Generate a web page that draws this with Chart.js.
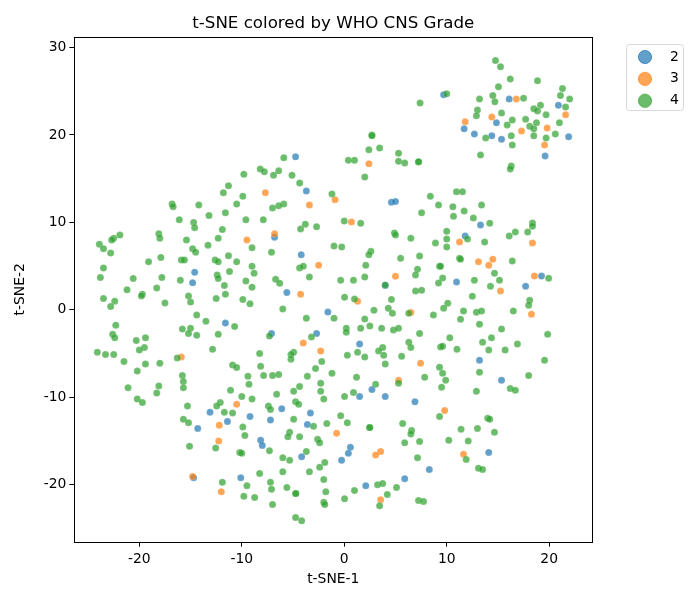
<!DOCTYPE html>
<html><head><meta charset="utf-8">
<style>html,body{margin:0;padding:0;background:#fff}canvas{display:block}</style>
<script src="https://cdn.jsdelivr.net/npm/chart.js@4"></script>
</head><body><canvas id="c" width="700" height="600"></canvas>
<script>
const grades = ["2","3","4"];
const xTicks = [-20,-10,0,10,20];
const yTicks = [-20,-10,0,10,20,30];
const grade2 = [[-14.6,4.3],[-14.8,3.1],[-11.6,-1.5],[-13.1,-11.7],[-9.2,-12.2],[-11.4,-12.75],[-14.3,-13.55],[-10.1,-19.2],[-14.7,-19.2],
[-4.75,17.5],[-3.7,13.6],[4.6,12.3],[5.0,12.4],[-6.8,8.3],[-4.2,6.3],[-5.6,2.0],[4.0,2.8],[-1.6,-0.25],[-7.1,-2.7],[-2.7,-2.7],
[1.5,-3.9],[1.5,-9.9],[2.7,-9.1],[4.0,-9.9],[6.9,-10.5],[-6.1,-11.3],[-7.2,-12.6],[-3.3,-11.8],[-3.6,-13.1],[-8.16,-14.9],[-8.0,-15.5],[0.6,-15.7],[0.4,-16.4],[-4.16,-16.8],[-0.26,-17.2],[8.3,-18.25],[5.9,-19.3],[2.1,-20.1],
[9.7,24.6],[16.1,24.1],[20.9,23.4],[14.85,21.4],[11.7,20.7],[12.7,20.1],[14.4,19.9],[15.35,19.5],[21.9,19.8],[19.6,17.6],
[13.3,9.7],[11.8,8.45],[19.25,3.86],[10.96,3.2],[17.7,2.7],[13.2,-5.75],[15.35,-8.05],[14.1,-16.3]];
const grade3 = [[-9.5,8.0],[-15.9,-5.4],[-10.5,-10.8],[-12.2,-13.2],[-12.25,-15.0],[-14.8,-19.05],[-12.0,-20.8],
[2.4,16.7],[-7.7,13.4],[-0.9,12.6],[-3.4,12.0],[0.7,10.05],[-6.8,8.7],[-2.5,5.1],[5.0,3.85],[-4.26,1.8],[1.3,1.0],[6.5,-0.3],
[-4.0,-3.8],[-2.3,-4.7],[7.45,-6.1],[5.3,-8.05],[-0.75,-14.1],[3.55,-16.2],[3.06,-16.6],[3.55,-21.7],
[16.8,24.1],[21.6,22.3],[14.4,22.06],[11.8,21.5],[19.8,20.8],[17.3,20.45],[19.55,18.85],
[11.25,7.76],[18.37,7.64],[14.5,5.8],[13.1,5.5],[14.1,5.1],[18.56,3.86],[15.25,2.15],[18.27,-0.5],[9.8,-11.5],[11.64,-16.5]];
const grade4 = [[-9.8,15.5],[-11.3,14.2],[-11.8,13.4],[-9.9,13.0],[-10.5,12.1],[-16.8,12.1],[-16.7,11.8],[-14.2,12.0],[-13.2,10.8],[-11.6,11.1],[-9.6,10.3],[-16.1,10.3],[-14.7,10.0],[-14.6,9.4],[-11.9,9.2],[-21.9,8.55],[-22.5,8.2],[-22.7,8.0],[-23.9,7.5],[-23.5,7.0],[-22.8,6.5],[-18.1,8.7],[-18.0,8.2],[-15.4,8.0],[-12.3,8.2],[-13.3,7.4],[-14.8,7.0],[-14.5,6.6],[-9.0,7.1],[-17.9,6.0],[-19.1,5.5],[-15.9,5.7],[-15.6,5.7],[-12.6,5.7],[-12.3,5.5],[-11.3,6.2],[-10.5,5.5],[-9.0,5.0],[-23.5,4.8],[-23.8,3.7],[-20.6,3.6],[-17.8,3.7],[-16.0,3.4],[-12.4,4.0],[-12.3,3.6],[-11.2,4.4],[-8.8,4.2],[-9.6,3.3],[-9.0,2.6],[-11.7,2.8],[-18.3,2.5],[-21.2,2.3],[-19.7,1.8],[-19.8,1.6],[-23.5,1.3],[-22.4,1.0],[-22.8,0.4],[-15.2,1.6],[-15.0,0.9],[-12.5,1.3],[-11.6,1.8],[-9.9,1.2],[-9.2,0.7],[-17.5,0.8],[-14.4,-0.6],[-13.5,-1.3],[-10.7,-1.9],[-22.3,-1.75],[-15.8,-2.2],[-15.0,-2.1],[-15.2,-2.7],[-14.4,-2.9],[-12.3,-2.8],[-22.6,-2.8],[-22.4,-3.2],[-20.3,-3.5],[-19.4,-3.2],
[-19.5,-4.3],[-20.0,-4.6],[-24.1,-4.85],[-23.3,-5.1],[-22.5,-5.1],[-21.5,-5.9],[-19.4,-6.2],[-18.0,-6.1],[-20.2,-7.0],[-21.1,-8.9],[-18.1,-8.7],[-18.3,-9.5],[-20.2,-10.2],[-19.7,-10.6],[-12.85,-4.5],[-16.3,-5.5],[-10.9,-6.3],[-10.5,-6.6],[-9.4,-7.6],[-9.3,-8.5],[-15.8,-7.5],[-15.7,-8.2],[-15.7,-8.9],[-11.1,-9.2],[-10.0,-9.9],[-9.0,-10.2],[-12.1,-10.6],[-12.45,-11.0],[-15.3,-11.0],[-11.7,-11.7],[-10.9,-11.8],[-15.7,-12.5],[-15.2,-12.9],[-9.9,-13.4],[-9.7,-14.35],[-12.55,-15.8],[-15.1,-15.6],[-10.2,-16.3],[-10.0,-16.4],[-11.9,-19.7],[-9.5,-20.1],[-9.8,-21.3],[-8.75,-21.45],
[2.7,20.0],[2.7,19.9],[2.4,18.3],[3.45,18.5],[5.3,17.9],[5.3,17.0],[5.9,16.8],[7.25,16.9],[7.25,16.95],[0.4,17.1],[1.0,17.1],[2.0,15.2],[-5.9,17.4],[-8.2,16.1],[-7.8,15.8],[-6.9,15.4],[-6.4,15.9],[-5.1,15.4],[-4.35,14.5],[-1.2,13.25],[8.4,13.0],[7.55,11.1],[-5.9,12.1],[-6.4,11.9],[-7.0,11.65],[-7.9,10.3],[0.0,10.15],[1.6,9.9],[-3.8,9.8],[-4.26,9.25],[-2.7,9.5],[4.9,8.8],[5.0,8.55],[6.5,8.2],[-7.1,6.6],[-1.0,7.3],[-0.25,7.2],[2.6,6.7],[2.4,6.3],[5.5,5.9],[7.35,6.15],[-4.36,4.8],[-4.0,5.0],[2.1,5.1],[7.15,4.65],[6.95,4.0],[-3.4,3.75],[-6.7,3.5],[-6.3,3.05],[-0.35,3.4],[0.9,3.4],[2.0,3.75],[4.0,2.85],[6.96,2.15],[7.55,2.25],[-6.0,0.1],[0.03,1.45],[1.0,1.25],[4.6,1.2],[2.9,-0.05],[4.3,0.2],[4.7,-0.4],[6.3,-0.4],[-1.0,-0.95],[-3.7,-0.95],[2.0,-1.05],[2.5,-1.85],[1.6,-2.1],[0.2,-2.1],[0.2,-2.55],[3.65,-2.1],[4.8,-2.3],[5.3,-2.1],[7.35,-2.7],[-7.3,-3.0],[-3.2,-3.1],
[6.3,-3.7],[6.5,-4.3],[3.75,-4.3],[3.35,-4.7],[3.85,-5.2],[1.3,-4.85],[0.3,-5.2],[2.0,-5.4],[5.6,-5.3],[4.0,-6.2],[-8.26,-5.0],[-4.94,-4.85],[-5.2,-5.1],[-5.2,-5.65],[-2.2,-5.9],[-8.16,-6.45],[-2.8,-6.7],[-7.87,-7.5],[-7.0,-7.5],[-6.4,-7.4],[-3.6,-7.6],[-1.2,-7.25],[1.2,-7.7],[-2.3,-8.4],[-4.36,-8.75],[-4.94,-9.3],[-2.3,-9.3],[-6.6,-9.65],[-2.0,-10.2],[-4.75,-10.5],[-4.45,-10.8],[0.03,-9.9],[0.9,-9.45],[3.06,-8.5],[5.3,-8.4],[7.85,-7.7],[-7.4,-11.0],[-7.2,-11.4],[-4.94,-12.5],[-3.0,-13.3],[-1.7,-13.0],[-0.35,-12.1],[0.3,-12.9],[2.47,-13.45],[2.5,-13.45],[5.7,-13.0],[6.57,-13.8],[6.5,-14.2],[-5.33,-14.0],[-5.5,-14.5],[-4.36,-14.5],[-2.6,-14.8],[-2.4,-15.2],[5.9,-15.2],[7.35,-15.05],[-7.3,-16.1],[-3.7,-16.2],[7.15,-16.9],[-6.0,-16.9],[-5.33,-17.2],[-1.9,-17.45],[-2.4,-18.0],[-6.0,-18.5],[-3.4,-18.5],[-8.26,-18.7],[-2.0,-19.4],[3.25,-20.0],[3.75,-19.85],[5.1,-20.3],[-7.2,-19.7],[-7.1,-20.5],[-5.6,-20.3],[-1.8,-20.8],[1.0,-20.65],[-4.75,-21.0],[-4.72,-21.0],[4.2,-21.1],[0.03,-21.6],[7.25,-21.8],[7.74,-21.9],[-2.0,-22.0],[-1.9,-22.25],[3.45,-22.4],[-7.0,-22.25],[-4.75,-23.75],[-4.16,-24.1],
[14.76,28.5],[15.25,27.8],[16.2,26.4],[18.86,26.2],[15.05,25.5],[21.3,25.3],[21.1,24.5],[22.0,24.1],[10.0,24.7],[7.4,23.66],[13.2,24.1],[14.5,24.5],[14.7,23.8],[17.5,24.2],[21.6,23.2],[19.15,23.4],[18.5,23.0],[18.86,22.75],[19.7,22.3],[13.0,22.85],[12.9,22.2],[15.35,22.5],[16.4,21.7],[15.9,21.15],[17.7,21.8],[18.76,21.4],[18.1,21.0],[18.5,20.7],[21.0,21.4],[20.6,20.1],[18.5,19.9],[19.7,19.65],[16.3,19.9],[13.8,19.65],[16.4,18.85],[13.3,17.7],[16.3,16.45],[16.2,16.1],
[10.95,13.5],[11.54,13.5],[9.2,12.0],[10.6,11.8],[13.4,12.0],[11.7,11.3],[10.66,10.7],[12.6,10.5],[14.2,9.9],[18.37,9.93],[18.37,9.55],[16.7,8.9],[17.9,8.9],[16.1,8.45],[10.0,9.0],[12.03,8.1],[10.0,8.1],[8.9,7.65],[13.7,7.76],[10.0,7.2],[11.25,5.9],[11.35,5.8],[16.4,5.6],[9.3,5.0],[9.4,5.0],[14.66,4.2],[9.6,3.65],[9.2,3.06],[12.7,3.4],[15.15,3.4],[19.95,3.63],[14.27,2.7],[12.5,1.57],[18.1,1.1],[18.0,0.54],[10.1,0.77],[9.7,0.2],[8.7,-0.6],[11.64,-0.14],[12.9,-0.26],[13.4,-0.14],[11.35,-1.06],[16.5,-0.14],[13.2,-1.63],[15.35,-2.2],[19.85,-2.8],[10.3,-3.2],[14.37,-3.2],[13.5,-3.7],[16.9,-3.9],[9.4,-4.25],[9.6,-4.15],[11.0,-4.5],[14.1,-4.6],[15.7,-4.6],[19.55,-5.75],[9.3,-6.55],[9.6,-7.25],[13.2,-7.13],[9.9,-8.05],[18.0,-7.5],[9.5,-8.85],[16.2,-9.0],[16.7,-9.2],[12.9,-9.3],
[9.3,-12.2],[14.0,-12.4],[14.2,-12.5],[11.4,-13.66],[13.0,-13.55],[14.66,-14.0],[10.2,-14.9],[12.1,-15.0],[11.9,-17.1],[13.1,-18.1],[13.5,-18.25]];
const seriesColors = ["rgba(31,119,180,0.7)","rgba(255,127,14,0.7)","rgba(44,160,44,0.7)"];
const toPoints = a => a.map(p => ({x:p[0], y:p[1]}));
const font = {family:"'DejaVu Sans'", size:13.9};
function legendMarker(color){
  const m=document.createElement("canvas"); m.width=36; m.height=16;
  const g=m.getContext("2d");
  g.fillStyle=color; g.strokeStyle=color; g.lineWidth=1;
  g.beginPath(); g.arc(18,8,6.6,0,Math.PI*2); g.fill(); g.stroke();
  return m;
}
const frame = {id:"frame",
 afterLayout(c){ const l=c.legend; const w=l.width; l.left=619; l.right=619+w; l.top=42; },
 afterDraw(c){
  const a=c.chartArea, g=c.ctx;
  g.save();
  g.strokeStyle="#000"; g.lineWidth=1;
  g.strokeRect(Math.round(a.left)+.5,Math.round(a.top)+.5,Math.round(a.width),Math.round(a.height));
  g.strokeStyle="#d9d9d9"; g.lineWidth=1;
  g.beginPath(); g.roundRect(626.5,44.5,57,66,3); g.stroke();
  g.restore();
}};
new Chart(document.getElementById("c"),{
  type:"scatter",
  data:{datasets:[
    {label:grades[0],data:toPoints(grade2),backgroundColor:seriesColors[0],order:3},
    {label:grades[1],data:toPoints(grade3),backgroundColor:seriesColors[1],order:2},
    {label:grades[2],data:toPoints(grade4),backgroundColor:seriesColors[2],order:1}
  ]},
  plugins:[frame],
  options:{
    responsive:false,animation:false,devicePixelRatio:1,
    layout:{padding:{left:12,right:38,top:14,bottom:12}},
    elements:{point:{radius:3.5,borderWidth:0.5,borderColor:"rgba(255,255,255,0.35)",hoverRadius:3.5}},
    scales:{
      x:{type:"linear",min:-26.34,max:24.2,
        afterBuildTicks:s=>{s.ticks=xTicks.map(v=>({value:v}));},
        grid:{display:true,drawOnChartArea:false,drawTicks:true,tickLength:5,color:"#000"},
        border:{display:false},
        ticks:{color:"#000",font,padding:4,maxRotation:0,autoSkip:false},
        title:{display:true,text:"t-SNE-1",color:"#000",font,padding:{top:0,bottom:0}}},
      y:{type:"linear",min:-26.5,max:31.2,
        afterBuildTicks:s=>{s.ticks=yTicks.map(v=>({value:v}));},
        grid:{display:true,drawOnChartArea:false,drawTicks:true,tickLength:5,color:"#000"},
        border:{display:false},
        ticks:{color:"#000",font,padding:3,autoSkip:false},
        title:{display:true,text:"t-SNE-2",color:"#000",font,padding:{top:0,bottom:12}}}
    },
    plugins:{
      tooltip:{enabled:false},
      title:{display:true,text:"t-SNE colored by WHO CNS Grade",color:"#000",fullSize:false,
        font:{family:"'DejaVu Sans'",size:16.67,weight:"normal"},padding:{top:0,bottom:3}},
      legend:{display:true,position:"right",align:"start",
        labels:{usePointStyle:true,pointStyleWidth:36,boxHeight:10,padding:8,color:"#000",font,
          sort:(a,b)=>a.datasetIndex-b.datasetIndex,
          generateLabels:ch=>{
            const items=Chart.defaults.plugins.legend.labels.generateLabels(ch);
            items.forEach(i=>{i.pointStyle=legendMarker(seriesColors[i.datasetIndex]);});
            return items;
          }}}
    }
  }
});
</script></body></html>
